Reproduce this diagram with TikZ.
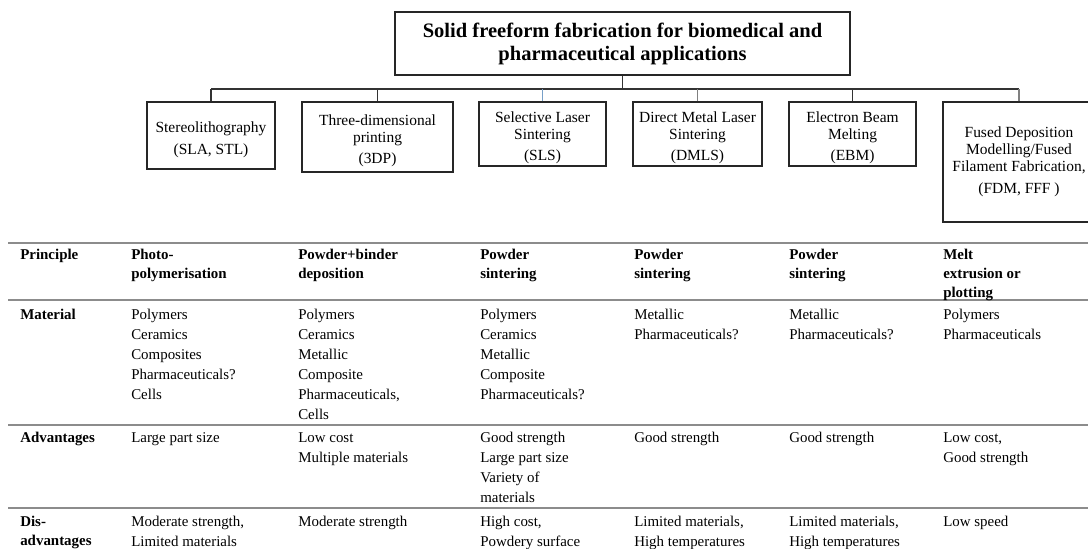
\documentclass[tikz,border=0pt]{standalone}
\usepackage{fontspec}
\setmainfont{Liberation Serif}
\newcommand\boxfont{\fontsize{11.6}{12.8}\selectfont}
\newcommand\titlefont{\fontsize{15.4}{17.3}\selectfont\bfseries}
\newcommand\tabfont{\fontsize{11.2}{15}\selectfont}
\newcommand\hdfont{\fontsize{11.2}{14.25}\selectfont\bfseries}
\newcommand\cellb[1]{\parbox[t]{5cm}{\tabfont\raggedright #1}}
\newcommand\cellh[1]{\parbox[t]{5cm}{\hdfont\raggedright #1}}
\definecolor{connblue}{RGB}{120,160,200}
\begin{document}
\begin{tikzpicture}[x=0.75pt,y=-0.75pt,
  box/.style={draw=black!85, line width=0.9pt, inner sep=0pt, align=center, font=\boxfont},
  conn/.style={draw=black!80, line width=0.9pt},
  connb/.style={draw=connblue, line width=0.9pt},
  conngray/.style={draw=black!50, line width=0.9pt},
  rule/.style={draw=black!45, line width=1.3pt},
  cell/.style={anchor=base west, inner sep=0pt},
]
\useasboundingbox (0,0) rectangle (1088,549);

% title
\node[box, minimum width=341.25pt, minimum height=47.25pt, font=\titlefont] (t) at (622.5,43.5)
  {Solid freeform fabrication for biomedical and\\pharmaceutical applications};

% method boxes
\node[box, minimum width=96pt,    minimum height=50.25pt] (b1) at (211,135.5)
  {\rule{0pt}{14pt}Stereolithography\\[3.5pt](SLA, STL)};
\node[box, minimum width=113.25pt, minimum height=52.5pt] (b2) at (377.5,137)
  {\rule{0pt}{14pt}Three-dimensional\\printing\\[3pt](3DP)};
\node[box, minimum width=95.25pt, minimum height=48pt] (b3) at (542.5,134)
  {\rule{0pt}{14pt}Selective Laser\\Sintering\\[3pt](SLS)};
\node[box, minimum width=96.75pt, minimum height=48pt] (b4) at (697.5,134)
  {\rule{0pt}{14pt}Direct Metal Laser\\Sintering\\[3pt](DMLS)};
\node[box, minimum width=95.25pt, minimum height=48pt] (b5) at (852.5,134)
  {\rule{0pt}{14pt}Electron Beam\\Melting\\[3pt](EBM)};
\node[box, minimum width=114pt, minimum height=90pt] (b6) at (1019,162)
  {Fused Deposition\\Modelling/Fused\\Filament Fabrication,\\[4pt](FDM, FFF )};

% connectors
\coordinate (j) at (622.5,89);
\draw[conn] (t.south) -- (j);
\draw[conn] (b1.north |- j) -- (b6.north |- j);
\draw[conn] (b1.north) -- (b1.north |- j);
\draw[conn] (b2.north) -- (b2.north |- j);
\draw[connb] (b3.north) -- (b3.north |- j);
\draw[conngray] (b4.north) -- (b4.north |- j);
\draw[conn] (b5.north) -- (b5.north |- j);
\draw[conngray] (b6.north) -- (b6.north |- j);

% table rules
\draw[rule] (8,243) -- (1088,243);
\draw[rule] (8,300) -- (1088,300);
\draw[rule] (8,425) -- (1088,425);
\draw[rule] (8,508) -- (1088,508);

% header row
\node[cell] (h0) at (20,259)  {\cellh{Principle}};
\node[cell] (h1) at (131,259) {\cellh{Photo-\\polymerisation}};
\node[cell] (h2) at (298,259) {\cellh{Powder+binder\\deposition}};
\node[cell] (h3) at (480,259) {\cellh{Powder\\sintering}};
\node[cell] (h4) at (634,259) {\cellh{Powder\\sintering}};
\node[cell] (h5) at (789,259) {\cellh{Powder\\sintering}};
\node[cell] (h6) at (943,259) {\cellh{Melt\\extrusion or\\plotting}};

% material row
\node[cell] (m0) at (20,319)  {\cellh{Material}};
\node[cell] (m1) at (131,319) {\cellb{Polymers\\Ceramics\\Composites\\Pharmaceuticals?\\Cells}};
\node[cell] (m2) at (298,319) {\cellb{Polymers\\Ceramics\\Metallic\\Composite\\Pharmaceuticals,\\Cells}};
\node[cell] (m3) at (480,319) {\cellb{Polymers\\Ceramics\\Metallic\\Composite\\Pharmaceuticals?}};
\node[cell] (m4) at (634,319) {\cellb{Metallic\\Pharmaceuticals?}};
\node[cell] (m5) at (789,319) {\cellb{Metallic\\Pharmaceuticals?}};
\node[cell] (m6) at (943,319) {\cellb{Polymers\\Pharmaceuticals}};

% advantages row
\node[cell] (a0) at (20,442)  {\cellh{Advantages}};
\node[cell] (a1) at (131,442) {\cellb{Large part size}};
\node[cell] (a2) at (298,442) {\cellb{Low cost\\Multiple materials}};
\node[cell] (a3) at (480,442) {\cellb{Good strength\\Large part size\\Variety of\\materials}};
\node[cell] (a4) at (634,442) {\cellb{Good strength}};
\node[cell] (a5) at (789,442) {\cellb{Good strength}};
\node[cell] (a6) at (943,442) {\cellb{Low cost,\\Good strength}};

% disadvantages row
\node[cell] (d0) at (20,526)  {\cellh{Dis-\\advantages}};
\node[cell] (d1) at (131,526) {\cellb{Moderate strength,\\Limited materials}};
\node[cell] (d2) at (298,526) {\cellb{Moderate strength}};
\node[cell] (d3) at (480,526) {\cellb{High cost,\\Powdery surface}};
\node[cell] (d4) at (634,526) {\cellb{Limited materials,\\High temperatures}};
\node[cell] (d5) at (789,526) {\cellb{Limited materials,\\High temperatures}};
\node[cell] (d6) at (943,526) {\cellb{Low speed}};
\end{tikzpicture}
\end{document}
